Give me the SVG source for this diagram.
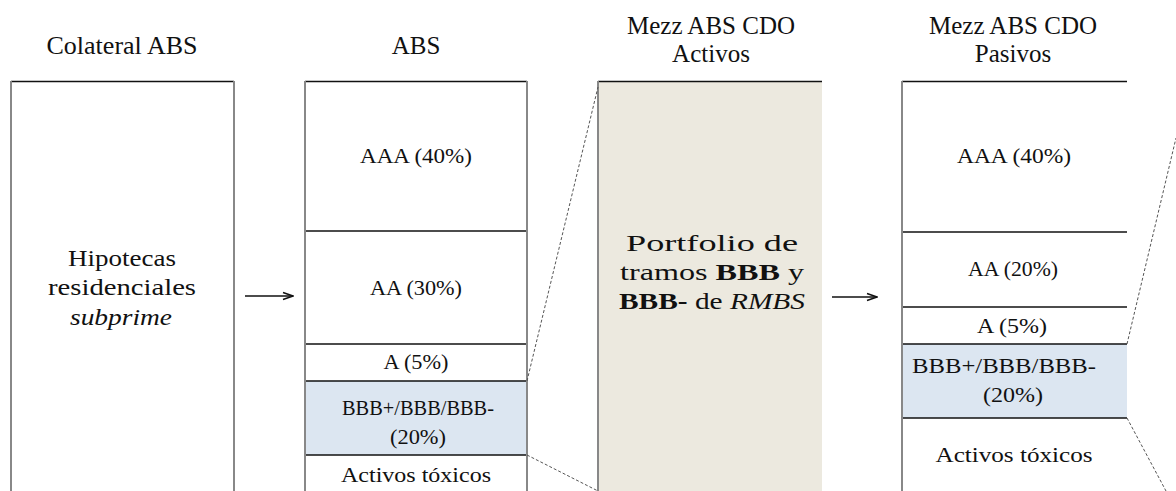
<svg xmlns="http://www.w3.org/2000/svg" width="1176" height="491" viewBox="0 0 1176 491" font-family="Liberation Serif, Times New Roman, serif">
<style>
text{fill:#111;text-anchor:middle}
.t{font-size:25px}
.c{font-size:21px}
.m{font-size:24px}
.v{stroke:#888;stroke-width:2;fill:none}
.h{stroke:#111;stroke-width:1.4;fill:none}
.d{stroke:#555;stroke-width:1;stroke-dasharray:3 2;fill:none}
.a{stroke:#111;stroke-width:1.6;fill:none}
</style>
<defs>
<marker id="ah" viewBox="0 0 12 10" refX="11" refY="5" markerWidth="12" markerHeight="10" markerUnits="userSpaceOnUse" orient="auto">
<path d="M1,1.5 L11,5 L1,8.5" fill="none" stroke="#111" stroke-width="1.5"/>
</marker>
<linearGradient id="fu" gradientUnits="userSpaceOnUse" x1="1127" y1="344" x2="1176" y2="138">
<stop offset="0" stop-color="#666"/><stop offset="1" stop-color="#ccc"/>
</linearGradient>
<linearGradient id="fd" gradientUnits="userSpaceOnUse" x1="1127" y1="418" x2="1166" y2="491">
<stop offset="0" stop-color="#555"/><stop offset="1" stop-color="#aaa"/>
</linearGradient>
</defs>
<g id="titles">
<text class="t" x="122" y="54" textLength="151" lengthAdjust="spacingAndGlyphs">Colateral ABS</text>
<text class="t" x="416" y="54">ABS</text>
<text class="t" x="711" y="34">Mezz ABS CDO</text>
<text class="t" x="711" y="62">Activos</text>
<text class="t" x="1013" y="34">Mezz ABS CDO</text>
<text class="t" x="1013" y="62">Pasivos</text>
</g>
<g id="colateral">
<line class="h" x1="11" y1="81.5" x2="234" y2="81.5"/>
<line class="v" x1="11" y1="81" x2="11" y2="491"/>
<line class="v" x1="234" y1="81" x2="234" y2="491"/>
<text class="m" x="122" y="266" textLength="108" lengthAdjust="spacingAndGlyphs">Hipotecas</text>
<text class="m" x="122" y="295" textLength="148" lengthAdjust="spacingAndGlyphs">residenciales</text>
<text class="m" x="121" y="325" font-style="italic" textLength="102" lengthAdjust="spacingAndGlyphs">subprime</text>
</g>
<g id="abs">
<rect x="305" y="381" width="222" height="74" fill="#dce6f1"/>
<line class="h" x1="305" y1="81.5" x2="527" y2="81.5"/>
<line class="h" x1="305" y1="231" x2="527" y2="231"/>
<line class="h" x1="305" y1="344" x2="527" y2="344"/>
<line class="h" x1="305" y1="381" x2="527" y2="381"/>
<line class="h" x1="305" y1="455" x2="527" y2="455"/>
<line class="v" x1="305" y1="81" x2="305" y2="491"/>
<line class="v" x1="527" y1="81" x2="527" y2="491"/>
<text class="c" x="416" y="163" textLength="112" lengthAdjust="spacingAndGlyphs">AAA (40%)</text>
<text class="c" x="416" y="295" textLength="92" lengthAdjust="spacingAndGlyphs">AA (30%)</text>
<text class="c" x="416" y="369" textLength="65" lengthAdjust="spacingAndGlyphs">A (5%)</text>
<text class="c" x="418" y="415" textLength="152" lengthAdjust="spacingAndGlyphs">BBB+/BBB/BBB-</text>
<text class="c" x="418" y="444" textLength="56" lengthAdjust="spacingAndGlyphs">(20%)</text>
<text class="c" x="416" y="482" textLength="150" lengthAdjust="spacingAndGlyphs">Activos tóxicos</text>
</g>
<g id="activos">
<rect x="598" y="81" width="224" height="410" fill="#ece9df"/>
<line class="h" x1="598" y1="81.5" x2="822" y2="81.5"/>
<line class="v" x1="598" y1="81" x2="598" y2="491"/>
<text class="m" x="712" y="251" textLength="172" lengthAdjust="spacingAndGlyphs">Portfolio de</text>
<text class="m" x="712" y="280" textLength="184" lengthAdjust="spacingAndGlyphs">tramos <tspan font-weight="bold">BBB</tspan> y</text>
<text class="m" x="712" y="309" textLength="186" lengthAdjust="spacingAndGlyphs"><tspan font-weight="bold">BBB-</tspan> de <tspan font-style="italic">RMBS</tspan></text>
</g>
<g id="pasivos">
<rect x="902" y="344" width="225" height="74" fill="#dce6f1"/>
<line class="h" x1="902" y1="81.5" x2="1127" y2="81.5"/>
<line class="h" x1="902" y1="232" x2="1127" y2="232"/>
<line class="h" x1="902" y1="307" x2="1127" y2="307"/>
<line class="h" x1="902" y1="344" x2="1127" y2="344"/>
<line class="h" x1="902" y1="418" x2="1127" y2="418"/>
<line class="v" x1="902" y1="81" x2="902" y2="491"/>
<text class="c" x="1014" y="163" textLength="114" lengthAdjust="spacingAndGlyphs">AAA (40%)</text>
<text class="c" x="1013" y="276" textLength="90" lengthAdjust="spacingAndGlyphs">AA (20%)</text>
<text class="c" x="1012" y="333" textLength="70" lengthAdjust="spacingAndGlyphs">A (5%)</text>
<text class="c" x="1004" y="373" textLength="184" lengthAdjust="spacingAndGlyphs">BBB+/BBB/BBB-</text>
<text class="c" x="1013" y="402" textLength="60" lengthAdjust="spacingAndGlyphs">(20%)</text>
<text class="c" x="1014" y="462" textLength="157" lengthAdjust="spacingAndGlyphs">Activos tóxicos</text>
</g>
<g id="connectors">
<line class="a" x1="245" y1="296" x2="293" y2="296" marker-end="url(#ah)"/>
<line class="a" x1="832" y1="297" x2="877" y2="297" marker-end="url(#ah)"/>
<line class="d" x1="527" y1="381" x2="598" y2="87"/>
<line class="d" x1="527" y1="455" x2="598" y2="491"/>
<line class="d" x1="1127" y1="344" x2="1176" y2="138" stroke="url(#fu)"/>
<line class="d" x1="1127" y1="418" x2="1166" y2="491" stroke="url(#fd)"/>
</g>
</svg>
